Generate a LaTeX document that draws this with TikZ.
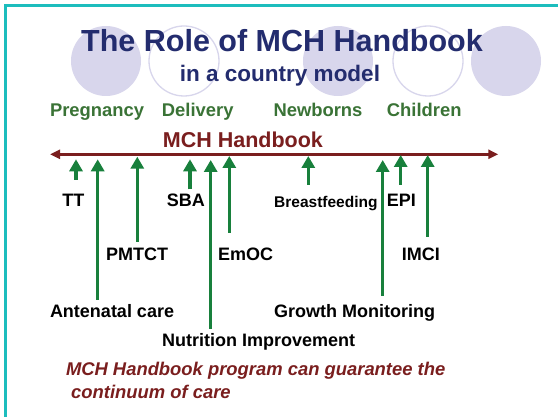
\documentclass[tikz,border=0pt]{standalone}
\usepackage{fontspec}
\setmainfont{Liberation Sans}
\usetikzlibrary{arrows.meta}
\definecolor{frameteal}{HTML}{1CBDBD}
\definecolor{titlenavy}{HTML}{232C6E}
\definecolor{phasegreen}{HTML}{3A7336}
\definecolor{arrowgreen}{HTML}{18803C}
\definecolor{hbred}{HTML}{7A1E1E}
\definecolor{lav}{HTML}{D8D6EC}
\tikzset{
  lbl/.style={anchor=base west, inner sep=0pt, font=\fontsize{18}{20}\selectfont\bfseries, text=black},
  phase/.style={anchor=base west, inner sep=0pt, font=\fontsize{18.4}{20}\selectfont\bfseries, text=phasegreen},
  gup/.style={draw=arrowgreen, line width=3.3pt, -{Triangle[width=13pt,length=12pt]}},
  fcirc/.style={fill=lav, draw=none},
  ocirc/.style={draw=lav, line width=1.3pt, fill=none},
  note/.style={anchor=base west, inner sep=0pt, font=\fontsize{18.4}{21}\selectfont\bfseries\itshape, text=hbred}
}
\begin{document}
\begin{tikzpicture}[x=1pt,y=-1pt]
\useasboundingbox (0,0) rectangle (558,417);
\fill[white] (0,0) rectangle (558,417);
% frame
\draw[frameteal, line width=3pt] (5.5,417) -- (5.5,5.5) -- (558,5.5);
% decorative circles
\fill[fcirc] (106,61) circle (35);
\draw[ocirc] (184,61) circle (35);
\fill[fcirc] (338,61) circle (35);
\draw[ocirc] (428,61) circle (35);
\fill[fcirc] (506,61) circle (35);
% title
\node (title) [anchor=base, inner sep=0pt, font=\fontsize{30.5}{32}\selectfont\bfseries, text=titlenavy] at (282,52) {The Role of MCH Handbook};
\node (sub) [anchor=base, inner sep=0pt, font=\fontsize{22.5}{24}\selectfont\bfseries, text=titlenavy] at (280,81.7) {in a country model};
% phases
\node (preg) [phase] at (49.8,116.7) {Pregnancy};
\node (deliv) [phase] at (161.7,116.7) {Delivery};
\node (newb) [phase] at (273.3,116.7) {Newborns};
\node (child) [phase] at (386.7,116.7) {Children};
% handbook line
\node (hb) [anchor=base west, inner sep=0pt, font=\fontsize{21.5}{23}\selectfont\bfseries, text=hbred] at (162.7,147.7) {MCH Handbook};
\coordinate (hbL) at (50,154.3);
\coordinate (hbR) at (498.3,154.3);
\draw[hbred, line width=2.7pt, {Triangle[width=9pt,length=10pt]}-{Triangle[width=9pt,length=10pt]}] (hbL) -- (hbR);
% labels
\node (tt) [lbl] at (62.3,207) {TT};
\node (sba) [lbl] at (166.7,207) {SBA};
\node (bf) [lbl, font=\fontsize{15.5}{18}\selectfont\bfseries] at (274,207.5) {Breastfeeding};
\node (epi) [lbl] at (386.7,207) {EPI};
\node (pmtct) [lbl] at (106,261) {PMTCT};
\node (emoc) [lbl] at (218,261) {EmOC};
\node (imci) [lbl] at (401.7,261) {IMCI};
\node (anc) [lbl] at (49.8,318) {Antenatal care};
\node (gm) [lbl] at (274,318) {Growth Monitoring};
\node (nut) [lbl] at (162,346.5) {Nutrition Improvement};
% arrow ends
\coordinate (ttB) at (76,180);      \coordinate (ttT) at (76,159.3);
\coordinate (ancB) at (97.7,300);   \coordinate (ancT) at (97.7,159.3);
\coordinate (pmB) at (137.3,241.7); \coordinate (pmT) at (137.3,156.7);
\coordinate (sbaB) at (190,189.3);  \coordinate (sbaT) at (190,159.3);
\coordinate (nutB) at (210.7,328.7);\coordinate (nutT) at (210.7,160);
\coordinate (emB) at (229.3,232.7); \coordinate (emT) at (229.3,156);
\coordinate (bfB) at (308.3,185);   \coordinate (bfT) at (308.3,156);
\coordinate (gmB) at (382.7,296);   \coordinate (gmT) at (382.7,160);
\coordinate (epiB) at (400.7,185);  \coordinate (epiT) at (400.7,155);
\coordinate (imB) at (427.7,236.7); \coordinate (imT) at (427.7,155);
\foreach \a in {tt,anc,pm,sba,nut,em,bf,gm,epi,im}{\draw[gup] (\a B) -- (\a T);}
% note
\node (note1) [note] at (65.8,375.7) {MCH Handbook program can guarantee the};
\node (note2) [note] at (71,398.8) {continuum of care};
\end{tikzpicture}
\end{document}
